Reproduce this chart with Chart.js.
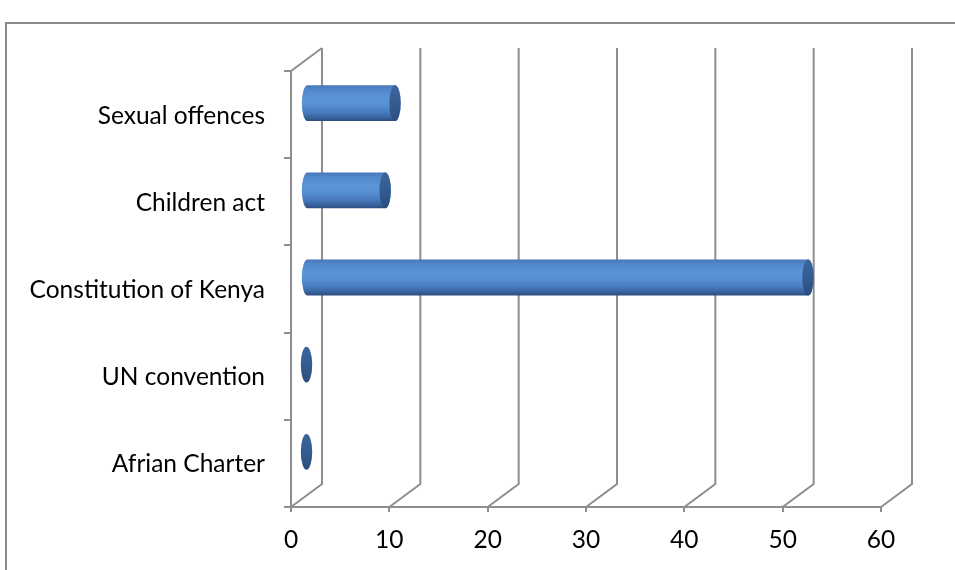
<!DOCTYPE html>
<html>
<head>
<meta charset="utf-8">
<script src="https://cdn.jsdelivr.net/npm/chart.js@4/dist/chart.umd.min.js"></script>
<style>
  html, body { margin: 0; padding: 0; background: #fff; }
  #wrap { position: relative; width: 955px; height: 570px; }
</style>
</head>
<body>
<div id="wrap"><canvas id="lawChart" width="955" height="570"></canvas></div>
<script>
// categories top to bottom, and how many mentions each one got
const categories = ['Sexual offences', 'Children act', 'Constitution of Kenya', 'UN convention', 'Afrian Charter'];
const mentions = [9, 8, 51, 0, 0];
const valueTicks = [0, 10, 20, 30, 40, 50, 60];

const LINE = '#8e8e8e';
const DEPTH_X = 31;   // back wall offset from the front plane
const DEPTH_Y = -23;
const CAP_RX = 5.7;   // horizontal radius of the cylinder ends
const FONT = { family: 'Lato', size: 24.5 };

function drawCylinder(ctx, x0, x1, cy, r) {
    if (x1 - x0 > 0.5) {
        const g = ctx.createLinearGradient(0, cy - r, 0, cy + r);
        g.addColorStop(0, '#4676b8');
        g.addColorStop(0.12, '#5187cb');
        g.addColorStop(0.35, '#5d94d8');
        g.addColorStop(0.55, '#5790d4');
        g.addColorStop(0.78, '#4678b9');
        g.addColorStop(0.92, '#36609a');
        g.addColorStop(1, '#2b4d7d');
        ctx.fillStyle = g;
        ctx.beginPath();
        ctx.moveTo(x0, cy - r);
        ctx.lineTo(x1, cy - r);
        ctx.ellipse(x1, cy, CAP_RX, r, 0, -Math.PI / 2, Math.PI / 2);
        ctx.lineTo(x0, cy + r);
        ctx.ellipse(x0, cy, CAP_RX, r, 0, Math.PI / 2, Math.PI * 1.5);
        ctx.closePath();
        ctx.fill();
    }
    // flat end of the cylinder
    const cg = ctx.createLinearGradient(0, cy - r, 0, cy + r);
    cg.addColorStop(0, '#3d659c');
    cg.addColorStop(0.5, '#355c91');
    cg.addColorStop(1, '#2b4d7d');
    ctx.fillStyle = cg;
    ctx.beginPath();
    ctx.ellipse(x1, cy, CAP_RX, r, 0, 0, Math.PI * 2);
    ctx.fill();
}

const depthPlugin = {
    id: 'depth',
    beforeDraw(chart) {
        const ctx = chart.ctx;
        ctx.save();
        ctx.strokeStyle = '#8a8a8a';
        ctx.lineWidth = 2;
        ctx.strokeRect(6, 23, 2000, 2000);
        ctx.restore();
    },
    beforeDatasetsDraw(chart) {
        const { ctx, chartArea: a, scales: { x } } = chart;
        ctx.save();
        ctx.strokeStyle = LINE;
        ctx.lineWidth = 2;
        ctx.beginPath();
        valueTicks.forEach(v => {
            const px = x.getPixelForValue(v);
            ctx.moveTo(px, a.bottom);
            ctx.lineTo(px + DEPTH_X, a.bottom + DEPTH_Y);
            ctx.lineTo(px + DEPTH_X, a.top + DEPTH_Y);
        });
        const x0 = x.getPixelForValue(0);
        ctx.moveTo(x0, a.top);
        ctx.lineTo(x0 + DEPTH_X, a.top + DEPTH_Y);
        ctx.stroke();
        ctx.restore();
    },
    // bars are drawn as cylinders below instead of flat rectangles
    beforeDatasetDraw() {
        return false;
    },
    afterDatasetsDraw(chart) {
        const ctx = chart.ctx;
        ctx.save();
        chart.getDatasetMeta(0).data.forEach(bar => {
            const p = bar.getProps(['x', 'y', 'base', 'height'], true);
            const r = p.height / 2;
            const cy = p.y + DEPTH_Y / 2;
            drawCylinder(ctx, p.base + DEPTH_X / 2, p.x + DEPTH_X / 2, cy, r);
        });
        ctx.restore();
    }
};

new Chart(document.getElementById('lawChart'), {
    type: 'bar',
    data: {
        labels: categories,
        datasets: [{
            data: mentions,
            backgroundColor: '#4f81bd',
            categoryPercentage: 0.41,
            barPercentage: 1
        }]
    },
    options: {
        indexAxis: 'y',
        responsive: false,
        animation: false,
        layout: { padding: { top: 71, right: 74, left: 0, bottom: 0 } },
        plugins: { legend: { display: false }, tooltip: { enabled: false } },
        scales: {
            x: {
                min: 0,
                max: 60,
                afterBuildTicks: scale => { scale.ticks = valueTicks.map(v => ({ value: v })); },
                afterFit: scale => { scale.height = 63; },
                grid: { drawOnChartArea: false, drawTicks: true, tickLength: 5, color: LINE, lineWidth: 2 },
                border: { display: true, color: LINE, width: 2 },
                ticks: { color: '#000', font: FONT, padding: 13, maxRotation: 0 }
            },
            y: {
                afterFit: scale => { scale.width = 291; },
                grid: { drawOnChartArea: false, drawTicks: true, tickLength: 7, color: LINE, lineWidth: 2, offset: true },
                border: { display: true, color: LINE, width: 2 },
                ticks: { color: '#000', font: FONT, padding: 19, labelOffset: 1 }
            }
        }
    },
    plugins: [depthPlugin]
});
</script>
</body>
</html>
